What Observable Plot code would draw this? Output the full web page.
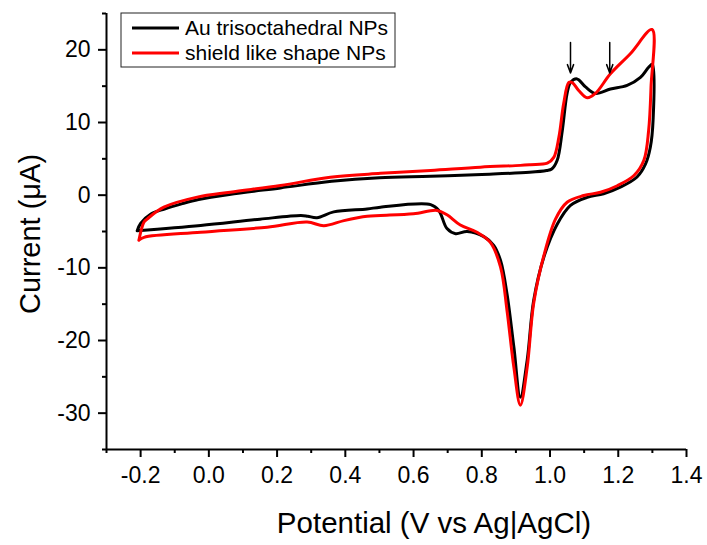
<!DOCTYPE html>
<html><head><meta charset="utf-8">
<script src="https://cdn.jsdelivr.net/npm/d3@7"></script>
<script src="https://cdn.jsdelivr.net/npm/@observablehq/plot@0.6"></script>
<style>
html,body{margin:0;padding:0;background:#fff;}
#chart{width:707px;height:545px;position:relative;}
svg text{font-family:"Liberation Sans", Arial, sans-serif;}
</style></head><body><div id="chart"></div>
<script>
// Au trisoctahedral NPs (black): potential (V) and current (µA), along the loop
const potentialAu = [
  -0.21,-0.20,-0.17,-0.13,-0.08,-0.03,0.06,0.21,0.36,0.50,0.65,0.80,0.94,0.99,1.005,1.021,1.036,1.050,1.060,1.079,1.104,1.133,1.177,1.226,1.265,1.289,1.300,
  1.302,1.294,1.280,1.255,1.206,1.157,1.109,1.060,1.021,0.982,0.952,0.933,0.913,0.894,0.874,0.855,0.835,0.806,0.757,0.723,0.698,0.674,0.650,0.503,0.464,0.366,0.317,0.290,0.270,0.15,-0.024,-0.21
];
const currentAu = [
  -4.9,-3.9,-2.6,-1.9,-1.2,-0.6,0.1,1.0,1.9,2.4,2.6,2.85,3.15,3.4,3.6,4.8,8.9,14.0,15.5,16.0,14.9,14.0,14.6,15.1,16.2,17.6,18.0,
  10.3,6.6,4.3,2.5,1.1,0.2,-0.3,-1.4,-4.0,-8.5,-14.5,-22.7,-27.8,-20.9,-13.6,-9.0,-6.9,-5.7,-5.0,-5.3,-4.6,-2.1,-1.3,-1.65,-1.9,-2.3,-3.1,-2.9,-2.8,-3.3,-4.17,-4.9
];
// shield like shape NPs (red)
const potentialShield = [
  -0.205,-0.19,-0.18,-0.132,-0.034,0.063,0.21,0.356,0.503,0.65,0.796,0.913,0.943,0.992,1.011,1.026,1.040,1.055,1.065,1.084,1.109,1.133,1.177,1.236,1.299,
  1.296,1.289,1.275,1.246,1.197,1.148,1.099,1.050,1.016,0.982,0.952,0.933,0.913,0.894,0.874,0.855,0.825,0.786,0.737,0.698,0.669,0.600,0.503,0.464,0.396,0.337,0.288,0.171,-0.024,-0.19,-0.205
];
const currentShield = [
  -6.2,-3.7,-3.25,-1.65,-0.27,0.41,1.33,2.47,3.0,3.4,3.85,4.1,4.2,4.4,5.2,8.0,12.6,15.5,15.5,14.4,13.4,14.0,16.7,19.5,22.8,
  14.9,8.9,4.8,2.7,1.3,0.4,-0.05,-0.97,-3.3,-8.3,-14.9,-23.7,-28.9,-23.7,-15.9,-9.9,-6.5,-5.1,-4.1,-2.7,-2.1,-2.55,-2.8,-2.9,-3.5,-4.2,-3.7,-4.4,-5.1,-5.8,-6.2
];
const seriesNames = ["Au trisoctahedral NPs", "shield like shape NPs"];
const seriesColors = ["#000000", "#ff0000"];

const xTicks = [-0.2,0.0,0.2,0.4,0.6,0.8,1.0,1.2,1.4];
const xMinorTicks = [-0.3,-0.1,0.1,0.3,0.5,0.7,0.9,1.1,1.3];
const yTicks = [-30,-20,-10,0,10,20];
const yMinorTicks = [-35,-25,-15,-5,5,15,25];
const xDomain = [-0.3, 1.4];
const yDomain = [-35, 25];

// arrows marking the oxidation peaks
const arrowPotential = [1.06, 1.175];
const arrowFrom = 21;
const arrowTo = 16.8;

const xLabel = "Potential (V vs Ag|AgCl)";
const yLabel = "Current (\u03BCA)";

const au = potentialAu.map((v, i) => ({V: v, I: currentAu[i]}));
const shield = potentialShield.map((v, i) => ({V: v, I: currentShield[i]}));
const arrows = arrowPotential.map(v => ({x: v, y1: arrowFrom, y2: arrowTo}));

const W = 707, H = 545, mT = 13, mL = 106, mR = 21, mB = 96;
const font = "Liberation Sans, Arial, sans-serif";

const plot = Plot.plot({
  width: W, height: H,
  marginTop: mT, marginLeft: mL, marginRight: mR, marginBottom: mB,
  style: {fontFamily: font, background: "white", color: "black", overflow: "visible"},
  x: {domain: xDomain, label: null},
  y: {domain: yDomain, label: null},
  marks: [
    Plot.axisX(xMinorTicks, {tickSize: 4, strokeWidth: 2, tickFormat: () => "", label: null}),
    Plot.axisX(xTicks, {tickSize: 8, tickPadding: 9, strokeWidth: 2, fontSize: 23, tickFormat: d => d.toFixed(1), label: null}),
    Plot.axisY(yMinorTicks, {tickSize: 4, strokeWidth: 2, tickFormat: () => "", label: null}),
    Plot.axisY(yTicks, {tickSize: 8, tickPadding: 8, strokeWidth: 2, fontSize: 23, tickFormat: d => String(d), label: null}),
    Plot.ruleY([yDomain[0]], {strokeWidth: 2, stroke: "black"}),
    Plot.ruleX([xDomain[0]], {strokeWidth: 2, stroke: "black"}),
    Plot.line(au, {x: "V", y: "I", stroke: seriesColors[0], strokeWidth: 3, curve: "catmull-rom"}),
    Plot.line(shield, {x: "V", y: "I", stroke: seriesColors[1], strokeWidth: 3, curve: "catmull-rom"}),
    Plot.arrow(arrows, {x1: "x", x2: "x", y1: "y1", y2: "y2", stroke: "black", strokeWidth: 1.5, headLength: 9, headAngle: 40})
  ]
});
document.getElementById("chart").appendChild(plot);

const svg = d3.select(plot);
// axis titles
svg.append("text").attr("x", 434).attr("y", 533).attr("text-anchor", "middle")
  .attr("font-size", 29.5).attr("fill", "black").style("font-family", font).text(xLabel);
svg.append("text").attr("transform", "translate(40,234) rotate(-90)").attr("text-anchor", "middle")
  .attr("font-size", 29).attr("fill", "black").style("font-family", font).text(yLabel);

// legend inside the frame (top-left)
const lg = svg.append("g").attr("transform", `translate(${mL + 15},${mT})`);
lg.append("rect").attr("x", 0).attr("y", 0).attr("width", 274).attr("height", 54)
  .attr("fill", "white").attr("stroke", "#222").attr("stroke-width", 1);
seriesNames.forEach((name, i) => {
  const cy = 15 + i * 25;
  lg.append("line").attr("x1", 11).attr("x2", 58).attr("y1", cy).attr("y2", cy)
    .attr("stroke", seriesColors[i]).attr("stroke-width", 3);
  lg.append("text").attr("x", 64).attr("y", cy + 7).attr("font-size", 21)
    .attr("text-anchor", "start").attr("fill", "black").style("font-family", font).text(name);
});
</script></body></html>
